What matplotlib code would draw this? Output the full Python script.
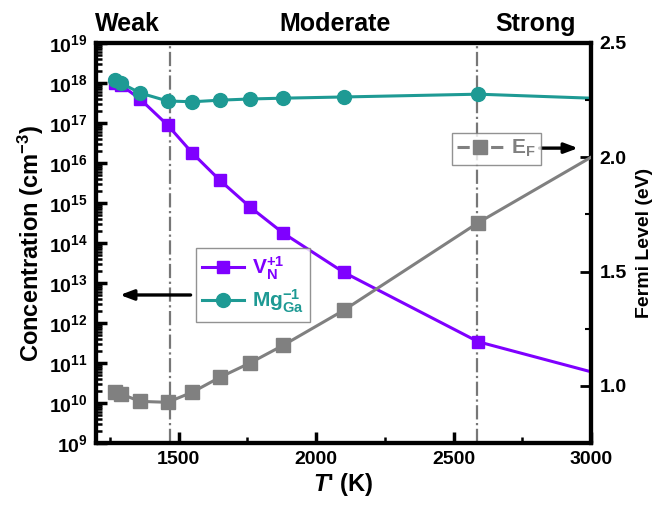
import numpy as np
import matplotlib.pyplot as plt
from matplotlib.lines import Line2D
from matplotlib.ticker import LogLocator, FixedLocator, MultipleLocator, NullFormatter

plt.rcParams['font.family'] = ['Liberation Sans', 'DejaVu Sans']
plt.rcParams['font.weight'] = 'bold'
plt.rcParams['mathtext.fontset'] = 'custom'
plt.rcParams['mathtext.rm'] = 'Liberation Sans:bold'
plt.rcParams['mathtext.bf'] = 'Liberation Sans:bold'
plt.rcParams['mathtext.it'] = 'Liberation Sans:bold:italic'

# temperatures (K) and computed quantities
T = [1270, 1290, 1360, 1460, 1550, 1650, 1760, 1880, 2100, 2590, 3000]
log_vn = [18.0, 17.95, 17.6, 16.95, 16.25, 15.57, 14.9, 14.25, 13.27, 11.53, 10.78]
log_mg = [18.07, 18.0, 17.75, 17.55, 17.53, 17.57, 17.6, 17.62, 17.65, 17.72, 17.62]
ef = [0.975, 0.965, 0.932, 0.928, 0.972, 1.037, 1.10, 1.177, 1.33, 1.714, 2.0]
regime_bounds = [1470, 2585]

vn = 10.0 ** np.array(log_vn)
mg = 10.0 ** np.array(log_mg)

purple = '#7F00FF'
teal = '#1E9A94'
grey = '#808080'

fig = plt.figure(figsize=(6.55, 5.11), dpi=100)
ax = fig.add_axes([0.1466, 0.1331, 0.7557, 0.7828])
ax2 = ax.twinx()

marks = list(range(len(T) - 1))
ax.plot(T, vn, color=purple, lw=2.2, marker='s', ms=9, markevery=marks, zorder=3)
ax.plot(T, mg, color=teal, lw=2.2, marker='o', ms=10, markevery=marks, zorder=3)
ax2.plot(T, ef, color=grey, lw=2.2, marker='s', ms=10, markevery=marks, zorder=3)

for xb in regime_bounds:
    ax.axvline(xb, color='#777777', lw=1.6, ls='-.', zorder=1)

ax.set_yscale('log')
ax.set_xlim(1200, 3000)
ax.set_ylim(1e9, 1e19)
ax2.set_ylim(0.75, 2.5)

ax.yaxis.set_major_locator(LogLocator(base=10, numticks=20))
ax.yaxis.set_minor_locator(LogLocator(base=10, subs=np.arange(2, 10) * 1.0, numticks=20))
ax.yaxis.set_minor_formatter(NullFormatter())
ax.xaxis.set_major_locator(MultipleLocator(500))
ax.xaxis.set_minor_locator(MultipleLocator(250))
ax2.yaxis.set_major_locator(FixedLocator([1.0, 1.5, 2.0, 2.5]))
ax2.yaxis.set_minor_locator(FixedLocator([1.25, 1.75, 2.25]))
ax2.set_yticklabels(['1.0', '1.5', '2.0', '2.5'])

for a in (ax, ax2):
    for s in a.spines.values():
        s.set_linewidth(3)
ax.tick_params(axis='both', which='major', direction='in', length=8, width=2.5,
               labelsize=14, pad=6)
ax.tick_params(axis='both', which='minor', direction='in', length=4, width=1.8)
ax.tick_params(axis='y', which='both', right=False)
ax2.tick_params(axis='y', which='major', direction='in', length=8, width=2.0,
                labelsize=14, pad=6)
ax2.tick_params(axis='y', which='minor', direction='in', length=4, width=1.5)

ax.set_xlabel(r"$\mathit{T}$' (K)", fontsize=17, fontweight='bold', labelpad=2)
ax.set_ylabel(r'Concentration (cm$^{-3}$)', fontsize=17, fontweight='bold', labelpad=2)
ax2.set_ylabel('Fermi Level (eV)', fontsize=14, fontweight='bold', labelpad=7)

# regime names above the plot
for xt, name in [(1313, 'Weak'), (2069, 'Moderate'), (2799, 'Strong')]:
    ax.text(xt, 1.5e19, name, ha='center', va='bottom', fontsize=18, fontweight='bold')

h1 = Line2D([], [], color=purple, lw=2.2, marker='s', ms=9)
h2 = Line2D([], [], color=teal, lw=2.2, marker='o', ms=10)
leg = ax.legend([h1, h2], [r'V$_\mathregular{N}^{+1}$', r'Mg$_\mathregular{Ga}^{-1}$'],
                loc='upper left', bbox_to_anchor=(0.202, 0.4875), borderaxespad=0,
                fontsize=15, frameon=True, fancybox=False, edgecolor='#777777',
                handlelength=2.0, borderpad=0.3, labelspacing=0.3, handletextpad=0.4)
leg.get_frame().set_linewidth(1.0)
for txt, c in zip(leg.get_texts(), [purple, teal]):
    txt.set_color(c)

h3 = Line2D([], [], color=grey, lw=2.2, marker='s', ms=10, dashes=(4, 1.5))
leg2 = ax2.legend([h3], [r'E$_\mathregular{F}$'], loc='upper left',
                  bbox_to_anchor=(0.719, 0.775), borderaxespad=0, fontsize=15,
                  frameon=True, fancybox=False, edgecolor='#777777', handlelength=2.2,
                  borderpad=0.25, handletextpad=0.4)
leg2.get_frame().set_linewidth(1.0)
leg2.get_texts()[0].set_color(grey)

# arrows pointing to the matching axis
ax.annotate('', xy=(1277, 10 ** 12.7), xytext=(1554, 10 ** 12.7),
            arrowprops=dict(arrowstyle='-|>,head_length=0.8,head_width=0.3',
                            color='black', lw=2.4))
ax2.annotate('', xy=(2963, 2.04), xytext=(2803, 2.04),
             arrowprops=dict(arrowstyle='-|>,head_length=0.8,head_width=0.3',
                             color='black', lw=2.4))

fig.savefig('out.png', dpi=100)
